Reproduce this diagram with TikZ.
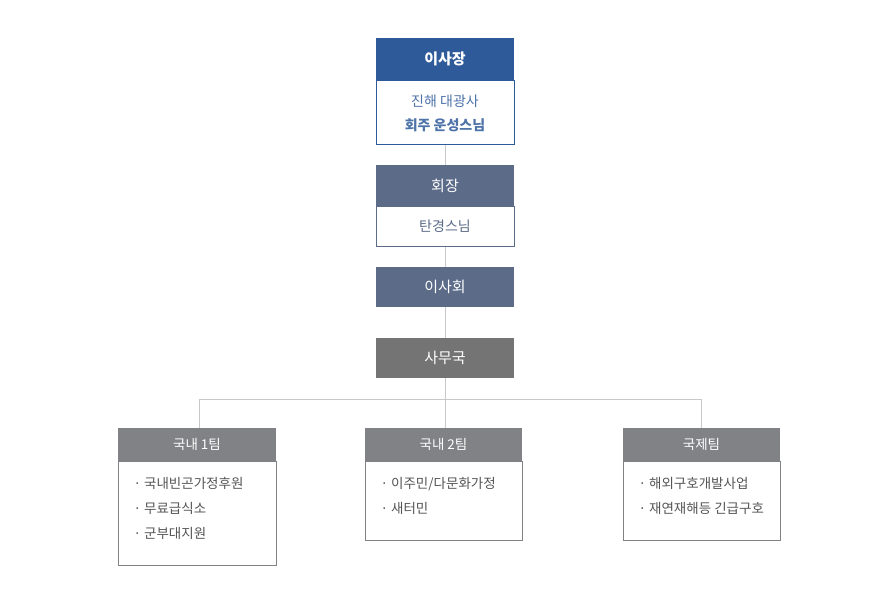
\documentclass[tikz,border=0pt]{standalone}
\usepackage{fontspec}
\setmainfont{Noto Sans CJK KR}
\definecolor{cblue}{HTML}{2F5A9A}
\definecolor{cslate}{HTML}{5B6B88}
\definecolor{cgray}{HTML}{747474}
\definecolor{cteam}{HTML}{808285}
\definecolor{cline}{HTML}{C8C8C8}
\definecolor{ctext}{HTML}{555555}
\begin{document}
\begin{tikzpicture}[x=1pt,y=-1pt,
  hdr/.style={fill=#1,draw=#1,inner sep=0pt},
  body/.style={draw=#1,fill=white,inner sep=0pt},
  conn/.style={draw=cline,line width=0.8pt},
  ht/.style={text=white,font=\fontsize{15}{18}\selectfont},
  tt/.style={text=white,font=\fontsize{13.5}{16}\selectfont},
  lt/.style={text=ctext,font=\fontsize{13.5}{25}\selectfont,anchor=north west,align=left}]
\useasboundingbox (0,0) rectangle (890,600);
% connectors
\coordinate (hl) at (199,399);
\coordinate (hr) at (701,399);
\coordinate (hm) at (445,399);
\draw[conn] (445,144) -- (445,338);
\draw[conn] (445,378) -- (hm);
\draw[conn] (hl) -- (hr);
\draw[conn] (hl) -- (199,428);
\draw[conn] (hm) -- (445,428);
\draw[conn] (hr) -- (701,428);
% 이사장
\draw[body=cblue] (376,80) rectangle (514,144);
\fill[cblue] (376,38) rectangle (514,80);
\node[ht,font=\fontsize{15}{18}\selectfont\bfseries] (a) at (445,59) {이사장};
\node[text=cblue!85,align=center,font=\fontsize{14}{24}\selectfont] (a2) at (445,113) {진해 대광사\\{\bfseries 회주 운성스님}};
% 회장
\draw[body=cslate] (376,206) rectangle (514,246);
\fill[cslate] (376,165) rectangle (514,206);
\node[ht] (b) at (445,186) {회장};
\node[text=cslate,font=\fontsize{14}{16}\selectfont] (b2) at (445,226) {탄경스님};
% 이사회
\fill[cslate] (376,267) rectangle (514,307);
\node[ht] (c) at (445,287) {이사회};
% 사무국
\fill[cgray] (376,338) rectangle (514,378);
\node[ht] (d) at (445,358) {사무국};
% teams
\draw[draw=cteam,fill=white] (118,461) rectangle (276,565);
\fill[cteam] (118,428) rectangle (276,461);
\node[tt] (t1) at (197,444.5) {국내 1팀};
\node[lt] (l1) at (130,474) {· 국내빈곤가정후원\\· 무료급식소\\· 군부대지원};
\draw[draw=cteam,fill=white] (365,461) rectangle (522,540);
\fill[cteam] (365,428) rectangle (522,461);
\node[tt] (t2) at (443.5,444.5) {국내 2팀};
\node[lt] (l2) at (377,474) {· 이주민/다문화가정\\· 새터민};
\draw[draw=cteam,fill=white] (623,461) rectangle (780,540);
\fill[cteam] (623,428) rectangle (780,461);
\node[tt] (t3) at (701.5,444.5) {국제팀};
\node[lt] (l3) at (635,474) {· 해외구호개발사업\\· 재연재해등 긴급구호};
\end{tikzpicture}
\end{document}
